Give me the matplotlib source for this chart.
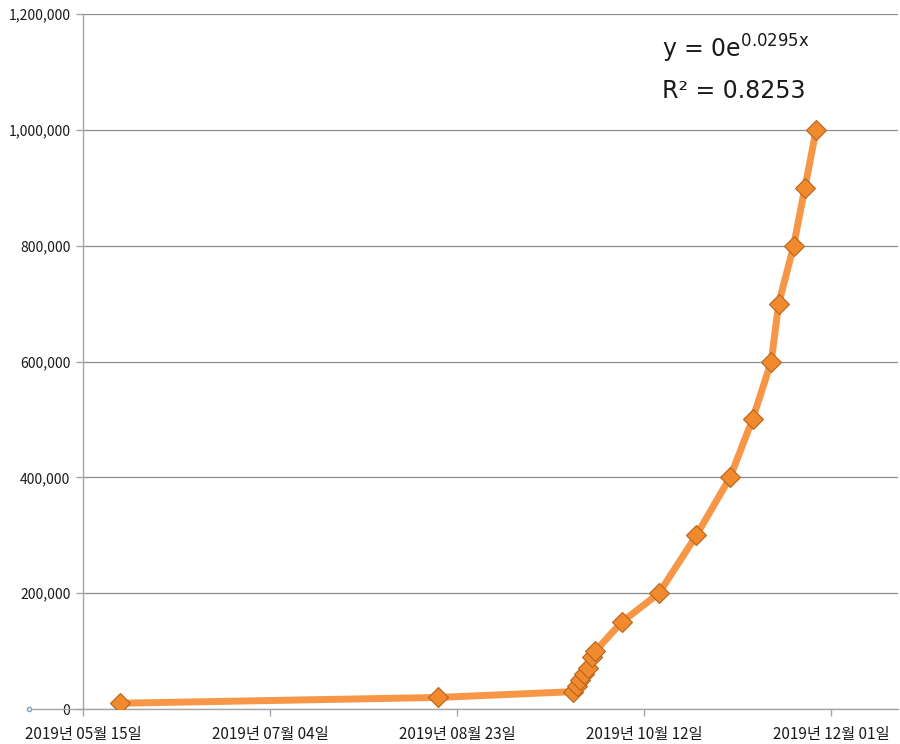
import matplotlib
matplotlib.use('Agg')
import matplotlib.pyplot as plt
import matplotlib.dates as mdates
import matplotlib.ticker as mticker
import numpy as np

plt.rcParams['font.family'] = ['Noto Sans CJK KR', 'DejaVu Sans']

# data
dates = ['2019-05-25', '2019-08-18',
         '2019-09-23', '2019-09-24', '2019-09-25', '2019-09-26', '2019-09-27',
         '2019-09-28', '2019-09-29',
         '2019-10-06', '2019-10-16', '2019-10-26', '2019-11-04', '2019-11-10',
         '2019-11-15', '2019-11-17', '2019-11-21', '2019-11-24', '2019-11-27']
values = [10000, 20000,
          30000, 40000, 50000, 60000, 70000,
          90000, 100000,
          150000, 200000, 300000, 400000, 500000,
          600000, 700000, 800000, 900000, 1000000]
tick_dates = ['2019-05-15', '2019-07-04', '2019-08-23', '2019-10-12', '2019-12-01']
y_ticks = [0, 200000, 400000, 600000, 800000, 1000000, 1200000]

x = np.array(dates, dtype='datetime64[D]')
xt = np.array(tick_dates, dtype='datetime64[D]')

fig = plt.figure(figsize=(9, 7.44), dpi=100)
ax = fig.add_axes([0.0922, 0.047, 0.906, 0.934])

ax.plot(x, values, color='#F79646', linewidth=5, solid_capstyle='round',
        solid_joinstyle='round', zorder=2)
ax.plot(x, values, linestyle='none', marker='D', markersize=10,
        markerfacecolor='#F08A2C', markeredgecolor='#B8631F',
        markeredgewidth=0.8, zorder=3)

ax.set_xlim(np.datetime64('2019-05-15'), np.datetime64('2019-12-19'))
ax.set_ylim(0, 1200000)
ax.set_xticks(xt)
ax.xaxis.set_major_formatter(mdates.DateFormatter('%Y년 %m월 %d일'))
ax.set_yticks(y_ticks)
ax.yaxis.set_major_formatter(mticker.FuncFormatter(lambda v, p: f'{int(v):,}'))

ax.grid(axis='y', color='#8c8c8c', linewidth=0.9)
ax.set_axisbelow(True)
for s in ['top', 'right']:
    ax.spines[s].set_visible(False)
for s in ['left', 'bottom']:
    ax.spines[s].set_color('#a6a6a6')
    ax.spines[s].set_linewidth(1.0)
ax.tick_params(axis='both', colors='#a6a6a6', length=5, width=1)
ax.tick_params(axis='x', labelcolor='#1a1a1a', labelsize=11, pad=7)
ax.tick_params(axis='y', labelcolor='#1a1a1a', labelsize=10, pad=4)

# little axis stub on the left of the origin
ax.plot([-0.066, 0], [0, 0], transform=ax.transAxes, color='#a6a6a6',
        linewidth=1, clip_on=False)
ax.plot([-0.066], [0], transform=ax.transAxes, marker='o', markersize=3,
        markerfacecolor='white', markeredgecolor='#7f9fbf', clip_on=False)

ax.text(0.71, 0.95, r'y = 0e$^{\mathregular{0.0295x}}$', transform=ax.transAxes,
        fontsize=17, family='DejaVu Sans', color='#1a1a1a', va='center')
ax.text(0.71, 0.89, 'R² = 0.8253', transform=ax.transAxes,
        fontsize=17, family='DejaVu Sans', color='#1a1a1a', va='center')

fig.savefig('out.png', dpi=100)
